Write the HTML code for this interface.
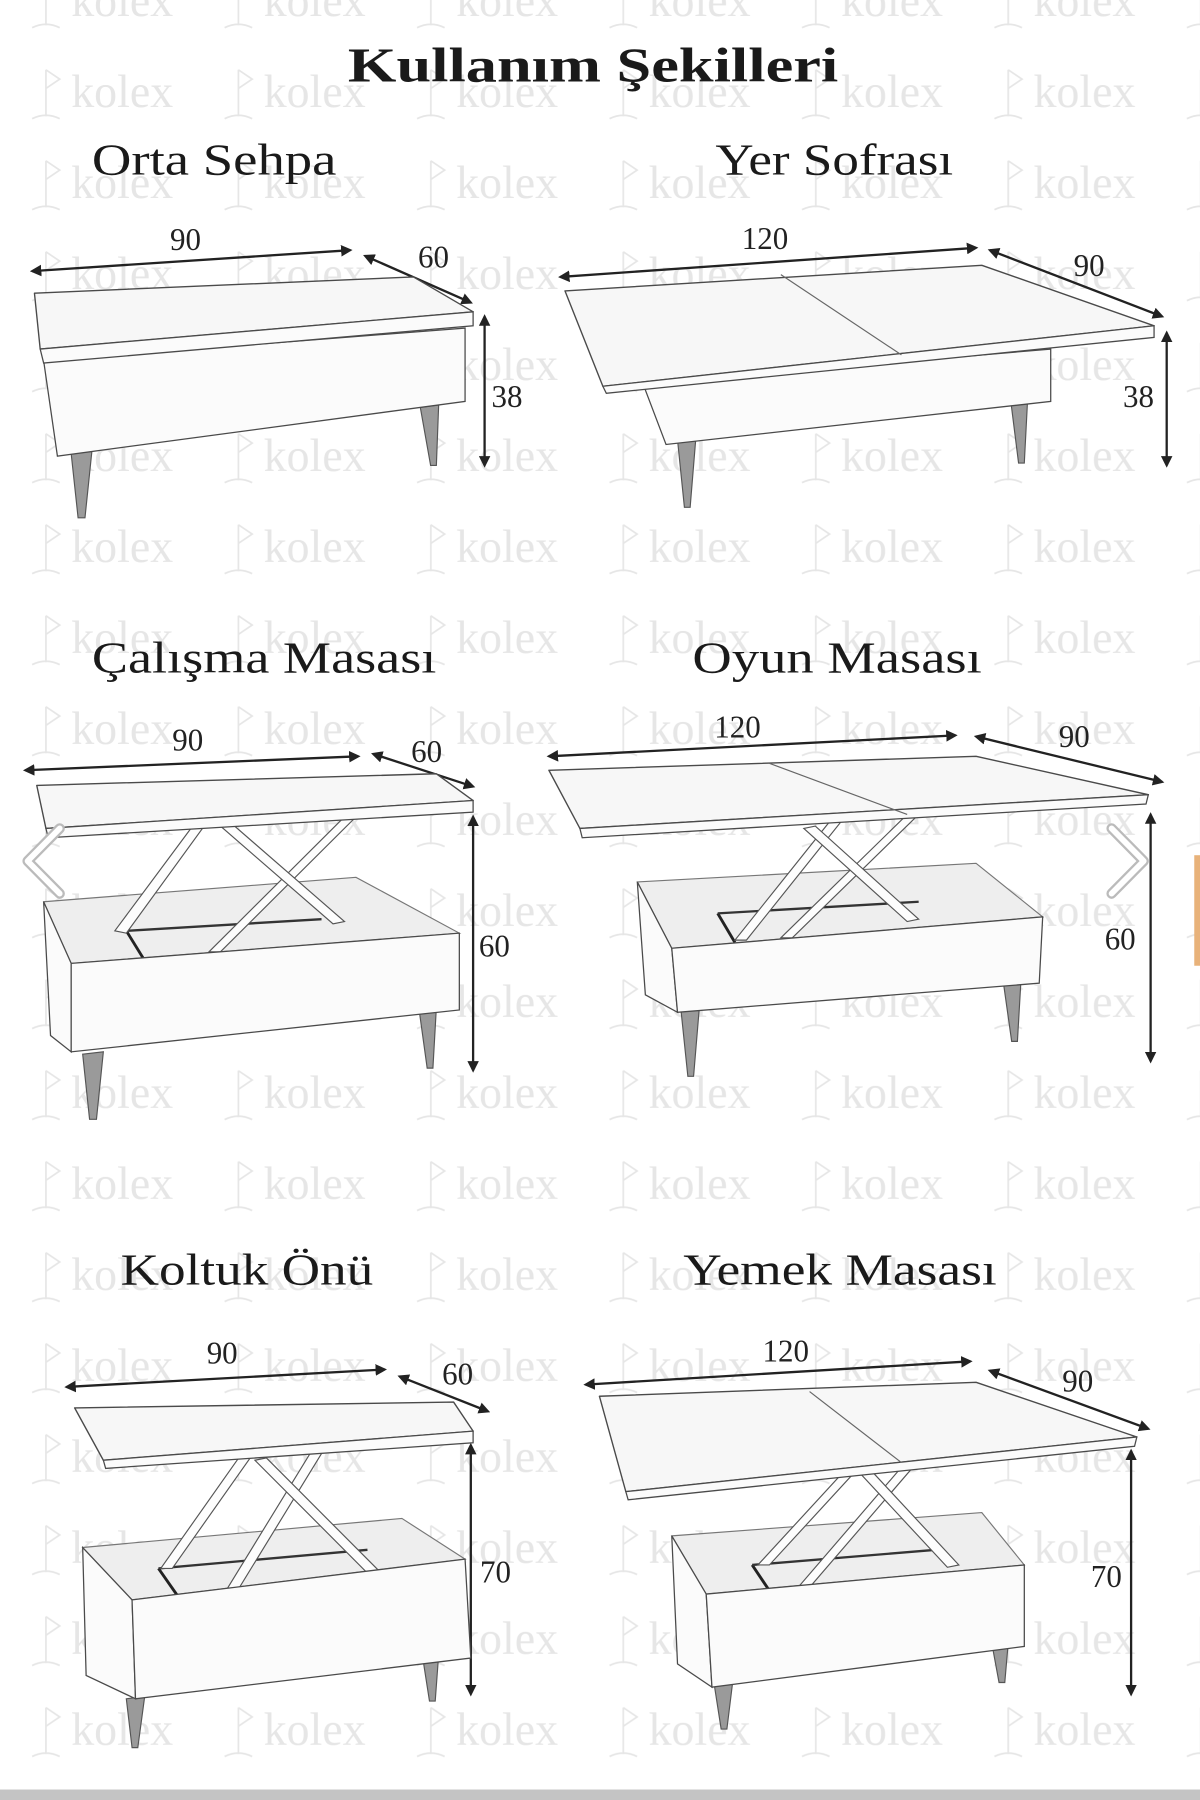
<!DOCTYPE html>
<html><head><meta charset="utf-8"><style>
html,body{margin:0;padding:0;background:#fff;}
svg{display:block;}
.t{font-family:"Liberation Serif",serif;fill:#1a1a1a;}
.d{font-family:"Liberation Serif",serif;fill:#222;font-size:27px;}
.s{stroke:#4a4a4a;stroke-width:1.2;fill:#f7f7f7;stroke-linejoin:round;}
.f{stroke:#4a4a4a;stroke-width:1.1;fill:#fbfbfb;}
.in{stroke:#777;stroke-width:1;fill:#eeeeee;}
.leg{stroke:#555;stroke-width:1;fill:#9a9a9a;}
.bar{stroke:#555;stroke-width:1;fill:#fdfdfd;}
.ar{stroke:#222;stroke-width:2;fill:none;marker-start:url(#m);marker-end:url(#m);}
</style></head><body>
<svg width="1200" height="1800" viewBox="0 0 1045 1547" preserveAspectRatio="none" xmlns="http://www.w3.org/2000/svg">
<defs>
<marker id="m" viewBox="0 0 10 10" refX="8" refY="5" markerWidth="5" markerHeight="5" orient="auto-start-reverse"><path d="M0,0 L10,5 L0,10 z" fill="#222"/></marker>
<pattern id="wm" patternUnits="userSpaceOnUse" x="0" y="52" width="167.6" height="78.2">
<path d="M40 8 L40 48 M40 8 L52 16 L40 24 M28 50 Q40 44 52 50" stroke="#e6e6e6" stroke-width="1.5" fill="none"/>
<text x="62" y="40" font-family="Liberation Serif,serif" font-size="40" fill="#e6e6e6">kolex</text>
</pattern>
</defs>
<rect width="1045" height="1547" fill="#fff"/>
<rect x="0" y="0" width="1045" height="1538" fill="url(#wm)"/>

<text class="t" x="303" y="70" font-size="42" font-weight="bold" textLength="427" lengthAdjust="spacingAndGlyphs">Kullanım Şekilleri</text>
<text class="t" x="80" y="150" font-size="38" textLength="213" lengthAdjust="spacingAndGlyphs">Orta Sehpa</text>
<text class="t" x="623" y="150" font-size="38" textLength="207" lengthAdjust="spacingAndGlyphs">Yer Sofrası</text>
<text class="t" x="80" y="578" font-size="38" textLength="300" lengthAdjust="spacingAndGlyphs">Çalışma Masası</text>
<text class="t" x="603" y="578" font-size="38" textLength="252" lengthAdjust="spacingAndGlyphs">Oyun Masası</text>
<text class="t" x="105" y="1104" font-size="38" textLength="220" lengthAdjust="spacingAndGlyphs">Koltuk Önü</text>
<text class="t" x="595" y="1104" font-size="38" textLength="273" lengthAdjust="spacingAndGlyphs">Yemek Masası</text>

<!-- Table A -->
<line class="ar" x1="28" y1="233" x2="305" y2="215"/>
<text class="d" x="148" y="215">90</text>
<line class="ar" x1="318" y1="220" x2="410" y2="260"/>
<text class="d" x="364" y="230">60</text>
<line class="ar" x1="422" y1="272" x2="422" y2="400"/>
<text class="d" x="428" y="350">38</text>
<polygon class="leg" points="62,390 80,388 74,445 68,445"/>
<polygon class="leg" points="366,350 382,348 380,400 375,400"/>
<polygon class="f" points="38,310 405,282 405,345 50,392"/>
<polygon class="s" points="30,252 360,238 412,268 35,300"/>
<polygon class="f" points="35,300 412,268 412,280 38,312"/>

<!-- Table B -->
<line class="ar" x1="488" y1="238" x2="850" y2="213"/>
<text class="d" x="646" y="214">120</text>
<line class="ar" x1="862" y1="215" x2="1012" y2="272"/>
<text class="d" x="935" y="237">90</text>
<line class="ar" x1="1016" y1="286" x2="1016" y2="400"/>
<text class="d" x="978" y="350">38</text>
<polygon class="leg" points="590,378 606,376 601,436 596,436"/>
<polygon class="leg" points="880,343 895,341 892,398 887,398"/>
<polygon class="f" points="560,330 915,300 915,345 580,382"/>
<polygon class="s" points="492,250 855,228 1005,280 525,332"/>
<polygon class="f" points="525,332 1005,280 1005,290 528,338"/>
<line x1="680" y1="236" x2="785" y2="305" stroke="#666" stroke-width="1"/>

<!-- Table C -->
<line class="ar" x1="22" y1="662" x2="312" y2="650"/>
<text class="d" x="150" y="645">90</text>
<line class="ar" x1="325" y1="648" x2="412" y2="676"/>
<text class="d" x="358" y="655">60</text>
<line class="ar" x1="412" y1="702" x2="412" y2="920"/>
<text class="d" x="417" y="822">60</text>
<polygon class="leg" points="72,906 90,904 84,962 78,962"/>
<polygon class="leg" points="365,868 380,866 377,918 372,918"/>
<polygon class="in" points="38,775 310,754 400,802 62,828"/>
<line x1="110" y1="800" x2="125" y2="824" stroke="#222" stroke-width="2.5"/>
<line x1="110" y1="800" x2="280" y2="790" stroke="#333" stroke-width="2"/>
<polygon class="bar" points="170,707 180,707 110,802 100,800"/>
<polygon class="bar" points="298,704 308,704 192,818 182,818"/>
<polygon class="bar" points="192,710 202,708 300,792 290,794"/>
<polygon class="f" points="38,775 62,828 62,904 44,890"/>
<polygon class="f" points="62,828 400,802 400,868 62,904"/>
<polygon class="s" points="32,675 380,665 412,688 40,712"/>
<polygon class="f" points="40,712 412,688 412,698 42,720"/>

<!-- Table D -->
<line class="ar" x1="478" y1="650" x2="832" y2="632"/>
<text class="d" x="622" y="634">120</text>
<line class="ar" x1="850" y1="633" x2="1012" y2="672"/>
<text class="d" x="922" y="642">90</text>
<line class="ar" x1="1002" y1="700" x2="1002" y2="912"/>
<text class="d" x="962" y="816">60</text>
<polygon class="leg" points="593,868 609,866 604,925 599,925"/>
<polygon class="leg" points="874,846 889,844 886,895 881,895"/>
<polygon class="in" points="555,758 850,742 908,788 585,815"/>
<line x1="625" y1="785" x2="640" y2="810" stroke="#222" stroke-width="2.5"/>
<line x1="625" y1="785" x2="800" y2="775" stroke="#333" stroke-width="2"/>
<polygon class="bar" points="725,703 735,703 650,808 640,808"/>
<polygon class="bar" points="790,700 800,700 690,806 680,806"/>
<polygon class="bar" points="700,712 710,710 800,790 790,792"/>
<polygon class="f" points="555,758 585,815 590,870 562,855"/>
<polygon class="f" points="585,815 908,788 905,845 590,870"/>
<polygon class="s" points="478,662 850,650 1000,683 505,712"/>
<polygon class="f" points="505,712 1000,683 998,691 507,720"/>
<line x1="670" y1="656" x2="790" y2="700" stroke="#666" stroke-width="1"/>

<!-- Table E -->
<line class="ar" x1="58" y1="1192" x2="335" y2="1177"/>
<text class="d" x="180" y="1172">90</text>
<line class="ar" x1="348" y1="1183" x2="425" y2="1213"/>
<text class="d" x="385" y="1190">60</text>
<line class="ar" x1="410" y1="1242" x2="410" y2="1456"/>
<text class="d" x="418" y="1360">70</text>
<polygon class="leg" points="110,1460 126,1458 120,1502 115,1502"/>
<polygon class="leg" points="368,1424 382,1422 379,1462 374,1462"/>
<polygon class="in" points="72,1330 350,1305 405,1340 115,1375"/>
<line x1="138" y1="1348" x2="155" y2="1372" stroke="#222" stroke-width="2.5"/>
<line x1="138" y1="1348" x2="320" y2="1332" stroke="#333" stroke-width="2"/>
<polygon class="bar" points="210,1250 220,1250 150,1348 140,1348"/>
<polygon class="bar" points="272,1246 282,1246 205,1370 195,1370"/>
<polygon class="bar" points="222,1255 232,1253 330,1350 320,1352"/>
<polygon class="f" points="72,1330 115,1375 118,1460 75,1440"/>
<polygon class="f" points="115,1375 405,1340 410,1425 118,1460"/>
<polygon class="s" points="65,1210 395,1205 412,1230 90,1255"/>
<polygon class="f" points="90,1255 412,1230 412,1240 92,1262"/>

<!-- Table F -->
<line class="ar" x1="510" y1="1190" x2="845" y2="1170"/>
<text class="d" x="664" y="1170">120</text>
<line class="ar" x1="862" y1="1178" x2="1000" y2="1228"/>
<text class="d" x="925" y="1196">90</text>
<line class="ar" x1="985" y1="1247" x2="985" y2="1456"/>
<text class="d" x="950" y="1364">70</text>
<polygon class="leg" points="622,1448 638,1446 633,1486 628,1486"/>
<polygon class="leg" points="864,1414 878,1412 875,1446 870,1446"/>
<polygon class="in" points="585,1320 855,1300 892,1345 615,1370"/>
<line x1="655" y1="1345" x2="672" y2="1370" stroke="#222" stroke-width="2.5"/>
<line x1="655" y1="1345" x2="815" y2="1332" stroke="#333" stroke-width="2"/>
<polygon class="bar" points="742,1257 752,1257 670,1345 660,1345"/>
<polygon class="bar" points="792,1253 802,1253 700,1370 690,1370"/>
<polygon class="bar" points="745,1262 755,1260 835,1345 825,1347"/>
<polygon class="f" points="585,1320 615,1370 620,1450 590,1430"/>
<polygon class="f" points="615,1370 892,1345 892,1415 620,1450"/>
<polygon class="s" points="522,1200 850,1188 990,1235 545,1282"/>
<polygon class="f" points="545,1282 990,1235 988,1243 547,1289"/>
<line x1="705" y1="1196" x2="785" y2="1257" stroke="#666" stroke-width="1"/>

<polyline points="52,712 24,740 52,768" fill="none" stroke="#bbb" stroke-width="9" stroke-linecap="round" stroke-linejoin="round"/>
<polyline points="52,712 24,740 52,768" fill="none" stroke="#fff" stroke-width="5" stroke-linecap="round" stroke-linejoin="round"/>
<polyline points="968,712 996,740 968,768" fill="none" stroke="#bbb" stroke-width="9" stroke-linecap="round" stroke-linejoin="round"/>
<polyline points="968,712 996,740 968,768" fill="none" stroke="#fff" stroke-width="5" stroke-linecap="round" stroke-linejoin="round"/>
<rect x="1040" y="735" width="5" height="95" fill="#e8b27a"/>

<rect x="0" y="1538" width="1045" height="9" fill="#c4c4c4"/>
</svg>
</body></html>
